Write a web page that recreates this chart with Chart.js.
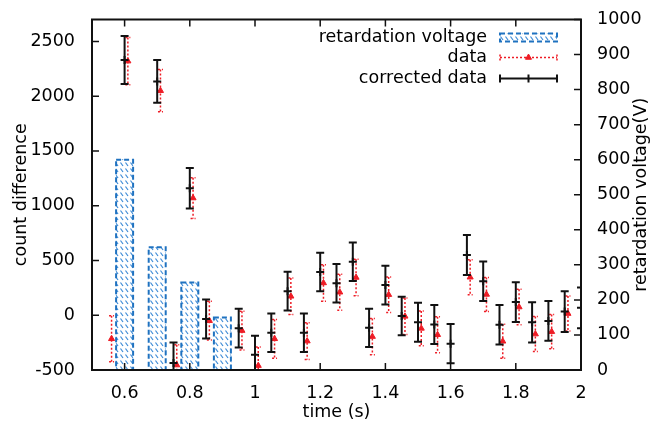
<!DOCTYPE html>
<html>
<head>
<meta charset="utf-8">
<script src="https://cdn.jsdelivr.net/npm/chart.js@4"></script>
<style>
  body { margin: 0; background: #fff; }
  #wrap { width: 659px; height: 428px; }
</style>
</head>
<body>
<div id="wrap"><canvas id="chart"></canvas></div>
<script>
// retardation voltage bars (right axis)
const retTime = [0.6, 0.7, 0.8, 0.9];
const retVoltage = [600, 350, 250, 150];

// raw data (red triangles)
const dataTime = [0.56, 0.61, 0.71, 0.76, 0.81, 0.86, 0.96, 1.01, 1.06, 1.11, 1.16, 1.21, 1.26,
                  1.31, 1.36, 1.41, 1.46, 1.51, 1.56, 1.66, 1.71, 1.76, 1.81, 1.86, 1.91, 1.96];
const dataValue = [-215, 2320, 2050, -455, 1070, -50, -140, -460, -215, 173, -236, 295, 210,
                   345, -195, 188, -10, -120, -178, 347, 190, -238, 75, -172, -150, 15];
const dataError = [210, 215, 193, 185, 186, 177, 177, 170, 177, 167, 167, 167, 165,
                   167, 165, 162, 167, 158, 165, 160, 155, 155, 162, 160, 157, 160];

// corrected data (black crosses)
const corrTime = [0.6, 0.7, 0.75, 0.8, 0.85, 0.95, 1.0, 1.05, 1.1, 1.15, 1.2, 1.25, 1.3, 1.35,
                  1.4, 1.45, 1.5, 1.55, 1.6, 1.65, 1.7, 1.75, 1.8, 1.85, 1.9, 1.95, 2.0];
const corrValue = [2330, 2135, -435, 1160, -35, -118, -360, -160, 220, -160, 395, 292, 488, -115,
                   275, -7, -63, -85, -260, 550, 310, -87, 120, -65, -52, 33, 68];
const corrError = [220, 195, 185, 185, 178, 177, 172, 175, 177, 175, 176, 176, 176, 175,
                   176, 176, 178, 178, 179, 183, 180, 180, 182, 183, 182, 185, 186];

// tick positions
const xTicks = [0.6, 0.8, 1, 1.2, 1.4, 1.6, 1.8, 2];
const yTicks = [-500, 0, 500, 1000, 1500, 2000, 2500];
const y2Ticks = [0, 100, 200, 300, 400, 500, 600, 700, 800, 900, 1000];

const FONT = "'DejaVu Sans', sans-serif";
const FSIZE = 17.5;
const BLUE = '#1f72c0';
const RED = '#ee1c25';

function makeHatch() {
  const c = document.createElement('canvas');
  c.width = 5; c.height = 6;
  const g = c.getContext('2d');
  g.fillStyle = '#fff';
  g.fillRect(0, 0, 5, 6);
  g.strokeStyle = '#3d8ad6';
  g.lineWidth = 1.2;
  g.beginPath();
  g.moveTo(0.5, 0.5);
  g.lineTo(3, 4);
  g.stroke();
  return g.createPattern(c, 'repeat');
}
const hatch = makeHatch();

const errorBars = {
  id: 'errorBars',
  beforeDatasetDraw(chart, args) {
    const ds = chart.data.datasets[args.index];
    if (!ds.errors) return;
    const {ctx, chartArea: a, scales} = chart;
    ctx.save();
    ctx.beginPath();
    ctx.rect(a.left, a.top, a.width, a.height);
    ctx.clip();
    ctx.strokeStyle = ds.errorColor;
    ctx.lineWidth = ds.errorWidth;
    ctx.setLineDash(ds.errorDash || []);
    const cap = ds.errorCap;
    ds.data.forEach((p, i) => {
      if (p.y == null) return;
      const e = ds.errors[i];
      const px = scales.x.getPixelForValue(p.x);
      const top = scales.y.getPixelForValue(p.y + e);
      const bot = scales.y.getPixelForValue(p.y - e);
      ctx.beginPath();
      ctx.moveTo(px, top); ctx.lineTo(px, bot);
      ctx.moveTo(px - cap, top); ctx.lineTo(px + cap, top);
      ctx.moveTo(px - cap, bot); ctx.lineTo(px + cap, bot);
      ctx.stroke();
    });
    ctx.restore();
  }
};

const dashedBars = {
  id: 'dashedBars',
  afterDatasetDraw(chart, args) {
    const ds = chart.data.datasets[args.index];
    if (ds.type !== 'bar') return;
    const ctx = chart.ctx;
    ctx.save();
    ctx.strokeStyle = BLUE;
    ctx.lineWidth = 2;
    ctx.setLineDash([5, 3]);
    args.meta.data.forEach(bar => {
      const {x, y, base, width} = bar.getProps(['x', 'y', 'base', 'width'], true);
      ctx.strokeRect(x - width / 2, y, width, base - y);
    });
    ctx.restore();
  }
};

const frame = {
  id: 'frame',
  afterDraw(chart) {
    const {ctx, chartArea: a, scales: {x, y, y2}} = chart;
    const L = 7;
    ctx.save();
    ctx.strokeStyle = '#111';
    ctx.lineWidth = 1.5;
    ctx.beginPath();
    x.ticks.forEach(t => {
      const px = x.getPixelForValue(t.value);
      ctx.moveTo(px, a.bottom); ctx.lineTo(px, a.bottom - L);
      ctx.moveTo(px, a.top); ctx.lineTo(px, a.top + L);
    });
    y.ticks.forEach(t => {
      const py = y.getPixelForValue(t.value);
      ctx.moveTo(a.left, py); ctx.lineTo(a.left + L, py);
    });
    y2.ticks.forEach(t => {
      const py = y2.getPixelForValue(t.value);
      ctx.moveTo(a.right, py); ctx.lineTo(a.right - L, py);
    });
    ctx.stroke();
    ctx.lineWidth = 2;
    ctx.strokeRect(a.left, a.top, a.width, a.height);

    // right axis title, reading bottom to top like gnuplot
    ctx.fillStyle = '#000';
    ctx.font = FSIZE + 'px ' + FONT;
    ctx.textAlign = 'center';
    ctx.textBaseline = 'middle';
    ctx.translate(chart.width - 18, (a.top + a.bottom) / 2);
    ctx.rotate(-Math.PI / 2);
    ctx.fillText('retardation voltage(V)', 0, 0);
    ctx.restore();
  }
};

const key = {
  id: 'key',
  afterDraw(chart) {
    const {ctx, chartArea: a} = chart;
    const x1 = a.right - 81, x2 = a.right - 24, xm = (x1 + x2) / 2, tx = a.right - 94;
    const rows = [a.top + 18, a.top + 38, a.top + 59];
    const labels = chart.data.datasets.map(d => d.label);
    ctx.save();
    ctx.fillStyle = '#000';
    ctx.font = FSIZE + 'px ' + FONT;
    ctx.textAlign = 'right';
    ctx.textBaseline = 'middle';
    labels.forEach((t, i) => ctx.fillText(t, tx, rows[i]));

    // hatched box
    ctx.fillStyle = hatch;
    ctx.fillRect(x1, rows[0] - 4, x2 - x1, 8);
    ctx.strokeStyle = BLUE;
    ctx.lineWidth = 2;
    ctx.setLineDash([5, 3]);
    ctx.strokeRect(x1, rows[0] - 4, x2 - x1, 8);

    // data sample
    ctx.strokeStyle = RED;
    ctx.lineWidth = 1.5;
    ctx.setLineDash([2, 2]);
    ctx.beginPath();
    ctx.moveTo(x1, rows[1]); ctx.lineTo(x2, rows[1]);
    ctx.moveTo(x1, rows[1] - 3); ctx.lineTo(x1, rows[1] + 3);
    ctx.moveTo(x2, rows[1] - 3); ctx.lineTo(x2, rows[1] + 3);
    ctx.stroke();
    ctx.setLineDash([]);
    ctx.fillStyle = RED;
    ctx.lineWidth = 1;
    Chart.helpers.drawPoint(ctx, {pointStyle: 'triangle', radius: 3.5, borderWidth: 1, rotation: 0}, xm, rows[1]);

    // corrected sample
    ctx.strokeStyle = '#111';
    ctx.lineWidth = 2;
    ctx.beginPath();
    ctx.moveTo(x1, rows[2]); ctx.lineTo(x2, rows[2]);
    ctx.moveTo(x1, rows[2] - 4); ctx.lineTo(x1, rows[2] + 4);
    ctx.moveTo(x2, rows[2] - 4); ctx.lineTo(x2, rows[2] + 4);
    ctx.moveTo(xm, rows[2] - 4); ctx.lineTo(xm, rows[2] + 4);
    ctx.stroke();
    ctx.restore();
  }
};

const tickFont = {family: FONT, size: FSIZE};
const setTicks = list => s => { s.ticks = list.map(v => ({value: v})); };

new Chart(document.getElementById('chart'), {
  type: 'scatter',
  data: {
    datasets: [
      {
        type: 'bar',
        label: 'retardation voltage',
        yAxisID: 'y2',
        data: retTime.map((t, i) => ({x: t, y: retVoltage[i]})),
        backgroundColor: hatch,
        borderWidth: 0,
        barThickness: 17,
        order: 3
      },
      {
        label: 'data',
        yAxisID: 'y',
        data: dataTime.map((t, i) => ({x: t, y: dataValue[i]})),
        errors: dataError,
        errorColor: RED,
        errorWidth: 1.5,
        errorDash: [2, 2],
        errorCap: 2.5,
        pointStyle: 'triangle',
        pointRadius: 3.5,
        pointBorderWidth: 1,
        backgroundColor: RED,
        borderColor: RED,
        clip: 0,
        order: 2
      },
      {
        label: 'corrected data',
        yAxisID: 'y',
        data: corrTime.map((t, i) => ({x: t, y: corrValue[i]})),
        errors: corrError,
        errorColor: '#111',
        errorWidth: 2,
        errorCap: 4,
        pointStyle: 'cross',
        pointRadius: 4,
        pointBorderWidth: 2,
        borderColor: '#111',
        clip: 0,
        order: 1
      }
    ]
  },
  options: {
    responsive: true,
    maintainAspectRatio: false,
    animation: false,
    layout: {padding: {top: 18, left: 0, right: 0, bottom: 0}},
    plugins: {legend: {display: false}, tooltip: {enabled: false}},
    scales: {
      x: {
        type: 'linear',
        min: 0.5,
        max: 2,
        offset: false,
        grid: {display: false},
        border: {display: false},
        afterBuildTicks: setTicks(xTicks),
        ticks: {
          padding: 5,
          color: '#000',
          font: tickFont,
          callback: v => String(Number(v.toFixed(1)))
        },
        title: {display: true, text: 'time (s)', color: '#000', font: tickFont, padding: {top: 0, bottom: 5}},
        afterFit: s => { s.height = 58; }
      },
      y: {
        position: 'left',
        min: -500,
        max: 2700,
        grid: {display: false},
        border: {display: false},
        afterBuildTicks: setTicks(yTicks),
        ticks: {padding: 9, color: '#000', font: tickFont, callback: v => String(v)},
        title: {display: true, text: 'count difference', color: '#000', font: tickFont, padding: {top: 11, bottom: 0}},
        afterFit: s => { s.width = 92; }
      },
      y2: {
        position: 'right',
        min: 0,
        max: 1000,
        grid: {display: false},
        border: {display: false},
        afterBuildTicks: setTicks(y2Ticks),
        ticks: {padding: 8, color: '#000', font: tickFont, callback: v => String(v)},
        afterFit: s => { s.width = 78; }
      }
    }
  },
  plugins: [errorBars, dashedBars, frame, key]
});
</script>
</body>
</html>
